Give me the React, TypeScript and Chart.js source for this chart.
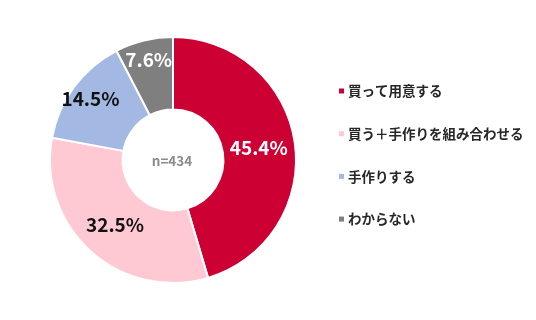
import React, { useEffect, useRef } from "react";
import { Chart, registerables } from "chart.js";

Chart.register(...registerables);

const categories = ["買って用意する", "買う＋手作りを組み合わせる", "手作りする", "わからない"];
const values = [45.4, 32.5, 14.5, 7.6];
const colors = ["#CC0033", "#FFC9D4", "#A3B9E3", "#7F7F7F"];
const labelColors = ["#FFFFFF", "#111111", "#111111", "#FFFFFF"];
const labelRadius = [0.5, 0.5, 0.72, 0.72];
const centerText = "n=434";

const FONT = '"Noto Sans CJK JP", "Noto Sans", sans-serif';

const overlayPlugin = {
  id: "overlay",
  afterDatasetsDraw(chart: any) {
    const ctx = chart.ctx;
    const meta = chart.getDatasetMeta(0);
    ctx.save();
    ctx.textAlign = "center";
    ctx.textBaseline = "middle";
    meta.data.forEach((arc: any, i: number) => {
      const p = arc.getProps(["x", "y", "startAngle", "endAngle", "innerRadius", "outerRadius"], true);
      const mid = (p.startAngle + p.endAngle) / 2;
      const r = p.innerRadius + (p.outerRadius - p.innerRadius) * labelRadius[i];
      const x = p.x + Math.cos(mid) * r;
      const y = p.y + Math.sin(mid) * r;
      ctx.fillStyle = labelColors[i];
      ctx.font = `bold 19px ${FONT}`;
      ctx.fillText(values[i].toFixed(1) + "%", x, y);
    });
    const a0 = meta.data[0];
    ctx.fillStyle = "#8C8C8C";
    ctx.font = `bold 13.5px ${FONT}`;
    ctx.fillText(centerText, a0.x - 1, a0.y + 1);

    // legend
    ctx.textAlign = "left";
    ctx.font = `bold 13.5px ${FONT}`;
    categories.forEach((c, i) => {
      const y = 91 + i * 42.7;
      ctx.fillStyle = colors[i];
      ctx.fillRect(339, y - 2.5, 5, 5);
      ctx.fillStyle = "#262626";
      ctx.fillText(c, 348, y);
    });
    ctx.restore();
  },
};

export default function App() {
  const ref = useRef<HTMLCanvasElement>(null);
  useEffect(() => {
    if (!ref.current) return;
    const chart = new Chart(ref.current, {
      type: "doughnut",
      data: {
        labels: categories,
        datasets: [
          {
            data: values,
            backgroundColor: colors,
            borderColor: "#FFFFFF",
            borderWidth: 2,
          },
        ],
      },
      options: {
        responsive: false,
        animation: false,
        cutout: "41%",
        layout: { padding: { left: 49, right: 239, top: 36, bottom: 36 } },
        plugins: {
          legend: { display: false },
          tooltip: { enabled: false },
        },
      },
      plugins: [overlayPlugin],
    });
    return () => chart.destroy();
  }, []);
  return (
    <div style={{ position: "fixed", left: 0, top: 0, width: 536, height: 320, background: "#fff" }}>
      <canvas ref={ref} width={536} height={320} />
    </div>
  );
}
